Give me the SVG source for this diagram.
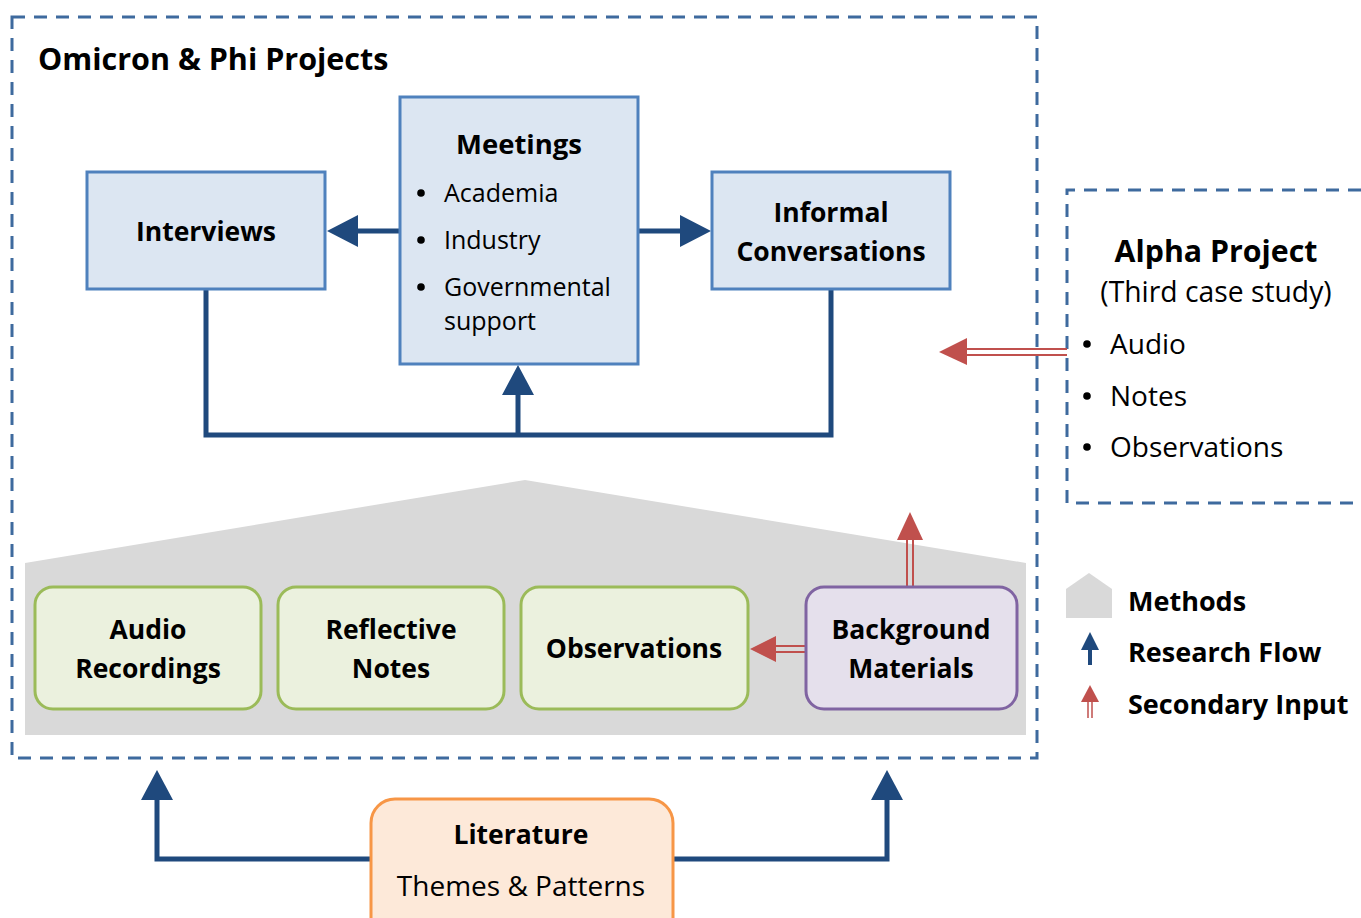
<svg xmlns="http://www.w3.org/2000/svg" width="1361" height="918" viewBox="0 0 1361 918">
<style>
text{font-family:"Open Sans","Liberation Sans",sans-serif;fill:#000}
.b{font-weight:bold}
.dash{fill:none;stroke:#3E6A9E;stroke-width:3;stroke-dasharray:13 9}
.blue{fill:#DCE6F2;stroke:#4F81BD;stroke-width:3}
.green{fill:#EBF1DE;stroke:#9BBB59;stroke-width:3}
.purple{fill:#E5E0EC;stroke:#8064A2;stroke-width:3}
.orange{fill:#FDE9D9;stroke:#F79646;stroke-width:3}
.flow{fill:none;stroke:#1F497D;stroke-width:5}
.head{fill:#1F497D}
.red{stroke:#C0504D;stroke-width:2;fill:none}
.rhead{fill:#C0504D}
.dot{fill:#000}
</style>
<rect x="12" y="17" width="1025" height="741" class="dash"/>
<path d="M1361 190 H1067 V503 H1361" class="dash"/>
<polygon points="25,563 525,480 1026,563 1026,735 25,735" fill="#D9D9D9"/>
<text x="38" y="70" font-size="30.5" class="b">Omicron &amp; Phi Projects</text>

<g id="connectors">
<path d="M400 231 H356" class="flow"/>
<polygon points="327,231 358,215 358,247" class="head"/>
<path d="M638 231 H682" class="flow"/>
<polygon points="711,231 680,215 680,247" class="head"/>
<path d="M206 289 V435 H831 V289" class="flow"/>
<path d="M518 435 V393" class="flow"/>
<polygon points="518,365 502,395 534,395" class="head"/>
<path d="M371 859 H157 V798" class="flow"/>
<polygon points="157,770 141,800 173,800" class="head"/>
<path d="M673 859 H887 V798" class="flow"/>
<polygon points="887,770 871,800 903,800" class="head"/>
<path d="M1067 349 H966 M1067 355 H966" class="red"/>
<polygon points="939,352 967,338 967,365" class="rhead"/>
<path d="M806 646 H774 M806 652 H774" class="red"/>
<polygon points="750,649 776,636 776,662" class="rhead"/>
<path d="M907 587 V538 M913 587 V538" class="red"/>
<polygon points="910,512 897,540 923,540" class="rhead"/>
</g>

<g id="meetings">
<rect x="400" y="97" width="238" height="267" class="blue"/>
<text x="519" y="154" font-size="27.5" class="b" text-anchor="middle">Meetings</text>
<g font-size="25">
<circle cx="421" cy="193" r="3.8" class="dot"/><text x="444" y="202">Academia</text>
<circle cx="421" cy="240" r="3.8" class="dot"/><text x="444" y="249">Industry</text>
<circle cx="421" cy="287" r="3.8" class="dot"/><text x="444" y="296">Governmental</text>
<text x="444" y="330">support</text>
</g>
</g>
<g id="interviews">
<rect x="87" y="172" width="238" height="117" class="blue"/>
<text x="206" y="241" font-size="26.5" class="b" text-anchor="middle">Interviews</text>
</g>
<g id="informal">
<rect x="712" y="172" width="238" height="117" class="blue"/>
<text x="831" y="222" font-size="26.5" class="b" text-anchor="middle">Informal</text>
<text x="831" y="261" font-size="26.5" class="b" text-anchor="middle">Conversations</text>
</g>

<g id="audio">
<rect x="35" y="587" width="226" height="122" rx="18" class="green"/>
<text x="148" y="639" font-size="26.5" class="b" text-anchor="middle">Audio</text>
<text x="148" y="678" font-size="26.5" class="b" text-anchor="middle">Recordings</text>
</g>
<g id="reflective">
<rect x="278" y="587" width="226" height="122" rx="18" class="green"/>
<text x="391" y="639" font-size="26.5" class="b" text-anchor="middle">Reflective</text>
<text x="391" y="678" font-size="26.5" class="b" text-anchor="middle">Notes</text>
</g>
<g id="observations">
<rect x="521" y="587" width="227" height="122" rx="18" class="green"/>
<text x="634" y="658" font-size="26.5" class="b" text-anchor="middle">Observations</text>
</g>
<g id="background">
<rect x="806" y="587" width="211" height="122" rx="18" class="purple"/>
<text x="911" y="639" font-size="26.5" class="b" text-anchor="middle">Background</text>
<text x="911" y="678" font-size="26.5" class="b" text-anchor="middle">Materials</text>
</g>

<g id="literature">
<path d="M371 935 V823 a24 24 0 0 1 24 -24 H649 a24 24 0 0 1 24 24 V935" class="orange"/>
<text x="521" y="844" font-size="26.5" class="b" text-anchor="middle">Literature</text>
<text x="521" y="896" font-size="28" text-anchor="middle">Themes &amp; Patterns</text>
</g>

<g id="alpha">
<text x="1216" y="262" font-size="30.3" class="b" text-anchor="middle">Alpha Project</text>
<text x="1216" y="302" font-size="28.3" text-anchor="middle">(Third case study)</text>
<g font-size="28">
<circle cx="1087" cy="344" r="3.8" class="dot"/><text x="1110" y="354">Audio</text>
<circle cx="1087" cy="396" r="3.8" class="dot"/><text x="1110" y="406">Notes</text>
<circle cx="1087" cy="447" r="3.8" class="dot"/><text x="1110" y="457">Observations</text>
</g>
</g>

<g id="legend">
<polygon points="1066,589 1089,573 1112,589 1112,618 1066,618" fill="#D9D9D9"/>
<text x="1128" y="611" font-size="27" class="b">Methods</text>
<path d="M1090 665 V648" stroke="#1F497D" stroke-width="4"/>
<polygon points="1090,632 1081,650 1099,650" class="head"/>
<text x="1128" y="662" font-size="27" class="b">Research Flow</text>
<path d="M1088 718 V700 M1092 718 V700" stroke="#C0504D" stroke-width="1.5"/>
<polygon points="1090,685 1081,702 1099,702" class="rhead"/>
<text x="1128" y="714" font-size="27" class="b">Secondary Input</text>
</g>
</svg>
